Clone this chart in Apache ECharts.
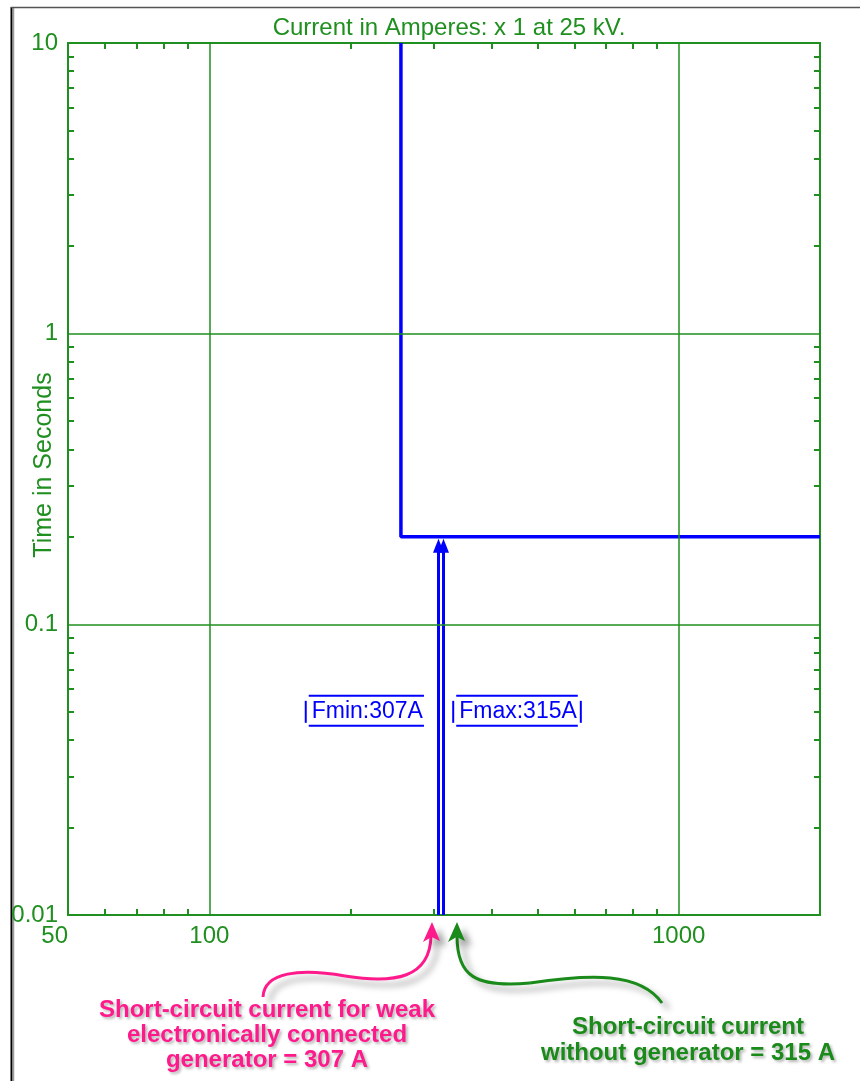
<!DOCTYPE html>
<html>
<head>
<meta charset="utf-8">
<script src="https://cdn.jsdelivr.net/npm/echarts@6/dist/echarts.min.js"></script>
<style>
  html, body { margin: 0; padding: 0; background: #fff; }
  #chart { width: 860px; height: 1081px; }
</style>
</head>
<body>
<div id="chart"></div>
<script>
// relay curve (current in A, time in s)
const curveAmps = [256, 256, 2000];
const curveTimes = [10, 0.2, 0.2];

// fault currents marked with arrows
const faultCurrents = [307, 315];
const faultLabels = ['Fmin:307A', 'Fmax:315A'];
const arrowFromTime = 0.01;
const arrowToTime = 0.2;
const labelTime = 0.05;

// axis ticks
const xLabelValues = [50, 100, 1000];
const xMinorTicks = [60, 70, 80, 90, 200, 300, 400, 500, 600, 700, 800, 900];
const xGridValues = [100, 1000];
const yLabelValues = [0.01, 0.1, 1, 10];
const yMinorTicks = [0.02, 0.03, 0.04, 0.05, 0.06, 0.07, 0.08, 0.09,
  0.2, 0.3, 0.4, 0.5, 0.6, 0.7, 0.8, 0.9, 2, 3, 4, 5, 6, 7, 8, 9];
const yGridValues = [0.1, 1];

const titleText = 'Current in Amperes: x 1 at 25 kV.';
const yName = 'Time in Seconds';
const noteMin = 'Short-circuit current for weak\nelectronically connected\ngenerator = 307 A';
const noteMax = 'Short-circuit current\nwithout generator = 315 A';

const GREEN = '#1f8f1f';
const BLUE = '#0000ff';
const PINK = '#ff1a8c';
const NOTE_GREEN = '#1a8a1a';
const FONT = '"Liberation Sans", Arial, sans-serif';
const NOTE_FONT = 'bold 24px "Liberation Sans", Arial, sans-serif';

const chart = echarts.init(document.getElementById('chart'), null, { renderer: 'canvas' });

const measureCtx = document.createElement('canvas').getContext('2d');
function textWidth(txt, size) {
  measureCtx.font = size + 'px ' + FONT;
  return measureCtx.measureText(txt).width;
}

const fmtNum = v => String(+(+v).toPrecision(6));

function xAxisBase(pos) {
  return {
    type: 'log', logBase: 10, min: 50, max: 2000, position: pos,
    axisLine: { show: true, onZero: false, lineStyle: { color: GREEN, width: 2 } },
    axisTick: { show: true, inside: true, length: 6, customValues: xMinorTicks, lineStyle: { color: GREEN, width: 2 } },
    splitLine: { show: false },
    minorTick: { show: false },
    axisLabel: { show: false }
  };
}
function yAxisBase(pos) {
  return {
    type: 'log', logBase: 10, min: 0.01, max: 10, position: pos,
    axisLine: { show: true, onZero: false, lineStyle: { color: GREEN, width: 2 } },
    axisTick: { show: true, inside: true, length: 6, customValues: yMinorTicks, lineStyle: { color: GREEN, width: 2 } },
    splitLine: { show: false },
    minorTick: { show: false },
    axisLabel: { show: false }
  };
}

const xBottom = xAxisBase('bottom');
xBottom.axisLabel = {
  show: true, customValues: xLabelValues, color: GREEN, fontSize: 24, fontFamily: FONT,
  margin: 9, formatter: fmtNum, alignMinLabel: 'right'
};
const yLeft = yAxisBase('left');
yLeft.axisLabel = {
  show: true, customValues: yLabelValues, color: GREEN, fontSize: 24, fontFamily: FONT,
  margin: 10, formatter: fmtNum
};
yLeft.name = yName;
yLeft.nameLocation = 'middle';
yLeft.nameRotate = 90;
yLeft.nameGap = 11;
yLeft.nameMoveOverlap = false;
yLeft.nameTextStyle = { color: GREEN, fontSize: 25, fontFamily: FONT, padding: [0, 0, 0, 28] };

const option = {
  backgroundColor: '#ffffff',
  animation: false,
  title: {
    text: titleText, left: 444, top: 11, textAlign: 'center',
    textStyle: { color: GREEN, fontSize: 24, fontWeight: 'normal', fontFamily: FONT }
  },
  grid: { left: 68, right: 40, top: 43, bottom: 166, containLabel: false, outerBoundsMode: 'none' },
  xAxis: [xBottom, xAxisBase('top')],
  yAxis: [yLeft, yAxisBase('right')],
  series: [
    {
      name: 'grid', type: 'line', data: [], z: 1, silent: true,
      markLine: {
        silent: true, symbol: ['none', 'none'], label: { show: false },
        lineStyle: { color: GREEN, width: 1.5, type: 'solid' },
        data: xGridValues.map(v => ({ xAxis: v })).concat(yGridValues.map(v => ({ yAxis: v })))
      }
    },
    {
      name: 'curve', type: 'line', z: 3,
      data: curveAmps.map((a, i) => [a, curveTimes[i]]),
      showSymbol: false, symbol: 'none',
      lineStyle: { color: BLUE, width: 3.5 }
    },
    {
      name: 'arrows', type: 'custom', z: 4,
      data: faultCurrents.map(a => [a, arrowFromTime, arrowToTime]),
      encode: { x: 0, y: 1 },
      renderItem: function (params, api) {
        const p0 = api.coord([api.value(0), api.value(1)]);
        const p1 = api.coord([api.value(0), api.value(2)]);
        const x = Math.round(p0[0]) + 0.5;
        const tip = p1[1] + 2;
        const hh = 14, hw = 11;
        return {
          type: 'group',
          children: [
            { type: 'line', shape: { x1: x, y1: p0[1], x2: x, y2: tip + hh - 2 }, style: { stroke: BLUE, lineWidth: 3 } },
            { type: 'polygon', shape: { points: [[x, tip], [x - hw / 2, tip + hh], [x + hw / 2, tip + hh]] }, style: { fill: BLUE } }
          ]
        };
      }
    },
    {
      name: 'labels', type: 'custom', z: 4,
      data: faultCurrents.map(a => [a, labelTime]),
      encode: { x: 0, y: 1 },
      renderItem: function (params, api) {
        const i = params.dataIndex;
        const p = api.coord([api.value(0), api.value(1)]);
        const txt = faultLabels[i];
        const w = textWidth(txt, 23);
        const left = i === 0 ? p[0] - 15 - w : p[0] + 16;
        const right = left + w;
        const cy = p[1];
        const ls = { stroke: BLUE, lineWidth: 2 };
        const kids = [
          { type: 'text', style: { text: txt, x: left, y: cy, fill: BLUE, fontSize: 23, fontFamily: FONT, verticalAlign: 'middle', align: 'left' } },
          { type: 'line', shape: { x1: left - 3, y1: cy - 16, x2: right + 1, y2: cy - 16 }, style: ls },
          { type: 'line', shape: { x1: left - 3, y1: cy + 14, x2: right + 1, y2: cy + 14 }, style: ls },
          { type: 'line', shape: { x1: left - 6, y1: cy - 11, x2: left - 6, y2: cy + 11 }, style: ls }
        ];
        if (i === 1) {
          kids.push({ type: 'line', shape: { x1: right + 4, y1: cy - 11, x2: right + 4, y2: cy + 11 }, style: ls });
        }
        return { type: 'group', children: kids };
      }
    }
  ],
  graphic: [
    // window frame
    { type: 'line', shape: { x1: 11.5, y1: 7, x2: 11.5, y2: 1081 }, style: { stroke: '#000', lineWidth: 2 } },
    { type: 'line', shape: { x1: 13.5, y1: 8, x2: 13.5, y2: 1081 }, style: { stroke: '#9a9a9a', lineWidth: 1.5 } },
    { type: 'line', shape: { x1: 11, y1: 7.5, x2: 860, y2: 7.5 }, style: { stroke: '#555', lineWidth: 1.5 } },
    // pink annotation arrow
    {
      type: 'bezierCurve',
      shape: { x1: 263, y1: 997, cpx1: 264, cpy1: 972, cpx2: 300, cpy2: 968, x2: 345, y2: 976 },
      style: { stroke: PINK, lineWidth: 3, fill: null, shadowBlur: 6, shadowColor: 'rgba(0,0,0,0.35)', shadowOffsetX: 7, shadowOffsetY: 6 }
    },
    {
      type: 'bezierCurve',
      shape: { x1: 345, y1: 976, cpx1: 395, cpy1: 984, cpx2: 430, cpy2: 978, x2: 431, y2: 936 },
      style: { stroke: PINK, lineWidth: 3, fill: null, shadowBlur: 6, shadowColor: 'rgba(0,0,0,0.35)', shadowOffsetX: 7, shadowOffsetY: 6 }
    },
    {
      type: 'polygon',
      shape: { points: [[432, 922], [423, 942], [431.5, 937], [440, 941]] },
      style: { fill: PINK, shadowBlur: 6, shadowColor: 'rgba(0,0,0,0.35)', shadowOffsetX: 7, shadowOffsetY: 6 }
    },
    // green annotation arrow
    {
      type: 'bezierCurve',
      shape: { x1: 457, y1: 936, cpx1: 457, cpy1: 976, cpx2: 475, cpy2: 988, x2: 530, y2: 983 },
      style: { stroke: NOTE_GREEN, lineWidth: 3, fill: null, shadowBlur: 6, shadowColor: 'rgba(0,0,0,0.35)', shadowOffsetX: 7, shadowOffsetY: 6 }
    },
    {
      type: 'bezierCurve',
      shape: { x1: 530, y1: 983, cpx1: 590, cpy1: 974, cpx2: 640, cpy2: 972, x2: 662, y2: 1003 },
      style: { stroke: NOTE_GREEN, lineWidth: 3, fill: null, shadowBlur: 6, shadowColor: 'rgba(0,0,0,0.35)', shadowOffsetX: 7, shadowOffsetY: 6 }
    },
    {
      type: 'polygon',
      shape: { points: [[457, 922], [448, 942], [456.5, 937], [465, 941]] },
      style: { fill: NOTE_GREEN, shadowBlur: 6, shadowColor: 'rgba(0,0,0,0.35)', shadowOffsetX: 7, shadowOffsetY: 6 }
    },
    // notes
    {
      type: 'text', x: 267, y: 998,
      style: {
        text: noteMin, fill: PINK, align: 'center', verticalAlign: 'top', lineHeight: 25,
        font: NOTE_FONT,
        textShadowColor: 'rgba(0,0,0,0.3)', textShadowBlur: 3, textShadowOffsetX: 2, textShadowOffsetY: 2
      }
    },
    {
      type: 'text', x: 688, y: 1014,
      style: {
        text: noteMax, fill: NOTE_GREEN, align: 'center', verticalAlign: 'top', lineHeight: 26,
        font: NOTE_FONT,
        textShadowColor: 'rgba(0,0,0,0.3)', textShadowBlur: 3, textShadowOffsetX: 2, textShadowOffsetY: 2
      }
    }
  ]
};

chart.setOption(option);
</script>
</body>
</html>
